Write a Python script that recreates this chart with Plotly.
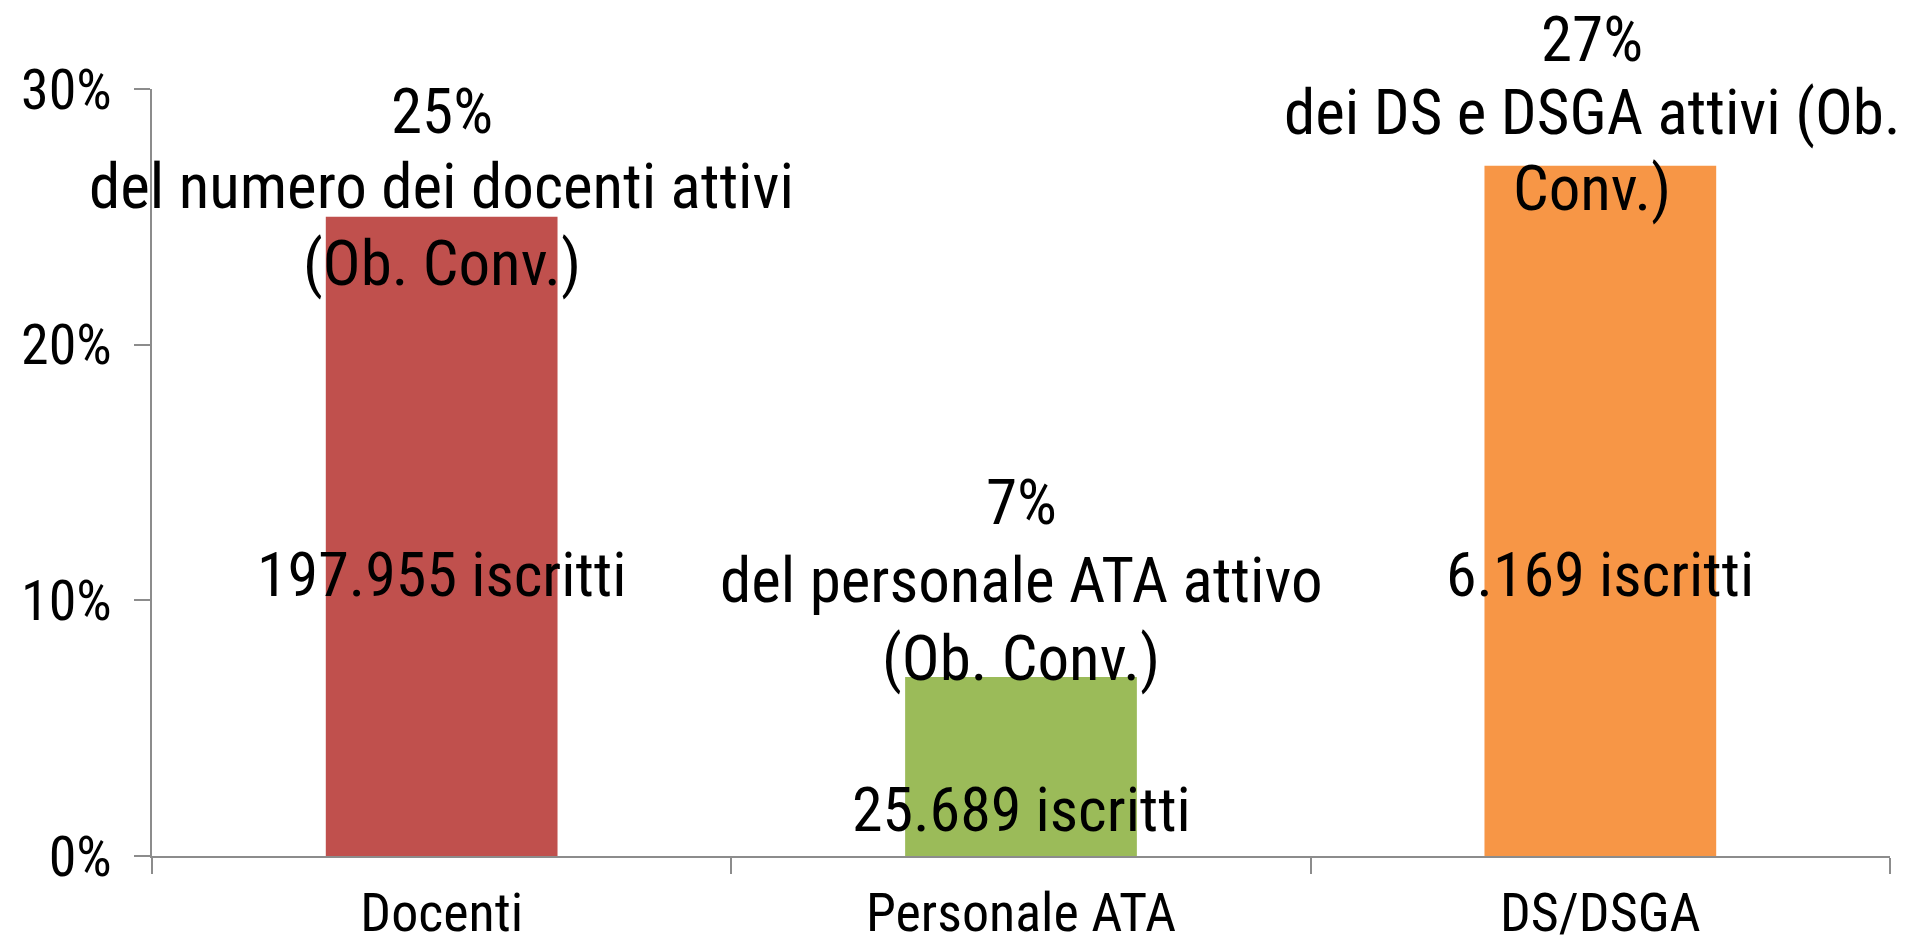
import plotly.graph_objects as go

categories = ["Docenti", "Personale ATA", "DS/DSGA"]
percent_values = [0.25, 0.07, 0.27]
pct_text = ["25%", "7%", "27%"]
desc_lines = [
    ["del numero dei docenti attivi", "(Ob. Conv.)"],
    ["del personale ATA attivo", "(Ob. Conv.)"],
    ["dei DS e DSGA attivi (Ob.", "Conv.)"],
]
iscritti_text = ["197.955 iscritti", "25.689 iscritti", "6.169 iscritti"]
y_tickvals = [0, 0.1, 0.2, 0.3]

bar_colors = ["#C0504D", "#9BBB59", "#F79646"]
FONT = "Roboto Condensed, Liberation Sans Narrow, Arial Narrow, sans-serif"
AXIS_COLOR = "#8C8C8C"

# pixel offsets (upwards) of each label line relative to bar top
line_shifts = [
    [105, 30, -47],
    [175, 97, 19],
    [126, 53, -23],
]
label_xshift = [0, 0, -8]
# pixel offsets of "iscritti" labels above the baseline
iscritti_shifts = [282, 47, 282]

fig = go.Figure()
fig.add_trace(go.Bar(
    x=categories,
    y=percent_values,
    marker=dict(color=bar_colors, line=dict(width=0)),
    hoverinfo="skip",
))

annotations = []
for i, cat in enumerate(categories):
    lines = [pct_text[i]] + desc_lines[i]
    for j, txt in enumerate(lines):
        annotations.append(dict(
            x=cat, y=percent_values[i], xref="x", yref="y",
            text=txt, showarrow=False, yanchor="middle", xanchor="center",
            yshift=line_shifts[i][j], xshift=label_xshift[i], borderpad=0,
            font=dict(family=FONT, size=63, color="#000000"),
        ))
    annotations.append(dict(
        x=cat, y=0, xref="x", yref="y",
        text=iscritti_text[i], showarrow=False, yanchor="middle", xanchor="center",
        yshift=iscritti_shifts[i], borderpad=0,
        font=dict(family=FONT, size=62, color="#000000"),
    ))

fig.update_layout(
    width=1907, height=936,
    margin=dict(l=144, r=25, t=81, b=88),
    paper_bgcolor="white", plot_bgcolor="white",
    showlegend=False,
    bargap=0.6,
    annotations=annotations,
    xaxis=dict(
        type="category",
        range=[-0.5, len(categories) - 0.5],
        automargin=False,
        showline=True, linecolor=AXIS_COLOR, linewidth=2,
        ticks="outside", ticklen=16, tickwidth=1.5, tickcolor=AXIS_COLOR,
        tickson="boundaries",
        showgrid=False, zeroline=False,
        tickfont=dict(family=FONT, size=54, color="#000000"),
        ticklabelstandoff=8,
    ),
    yaxis=dict(
        range=[0, 0.3],
        tickvals=y_tickvals,
        tickformat=".0%",
        automargin=False,
        showline=True, linecolor=AXIS_COLOR, linewidth=2,
        ticks="outside", ticklen=16, tickwidth=1.5, tickcolor=AXIS_COLOR,
        showgrid=False, zeroline=False,
        tickfont=dict(family=FONT, size=56, color="#000000"),
        ticklabelstandoff=11,
    ),
)

fig.write_html("out.html")
